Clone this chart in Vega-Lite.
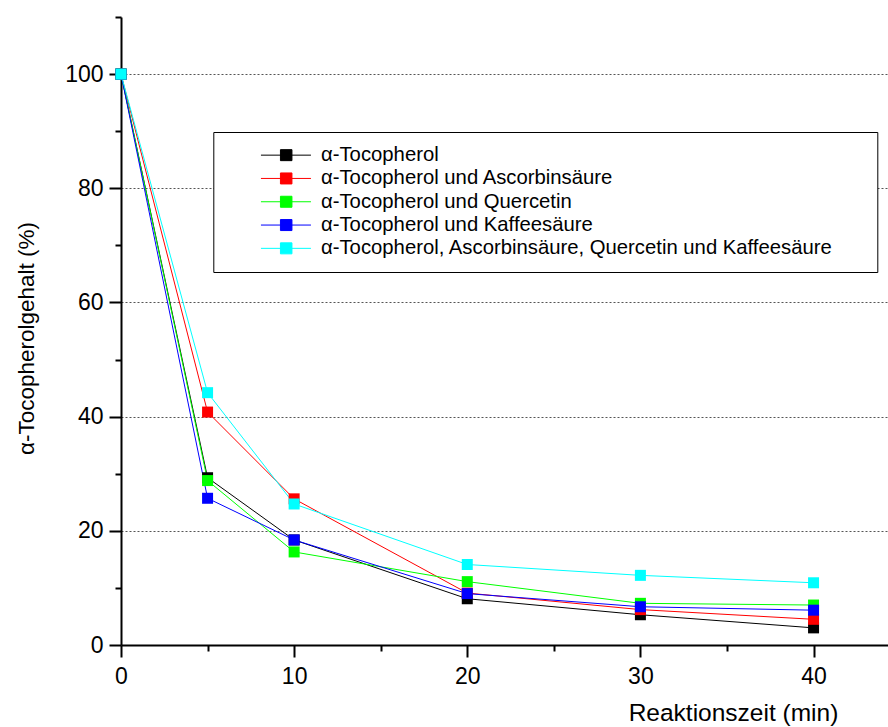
{
  "$schema": "https://vega.github.io/schema/vega-lite/v6.json",
  "width": 767,
  "height": 628,
  "autosize": {"type": "none"},
  "padding": {"left": 121, "top": 17, "right": 0, "bottom": 82},
  "background": "white",
  "config": {
    "font": "Liberation Sans",
    "view": {"stroke": null}
  },
  "data": {
    "values": [
      {"t": 0, "value": 100, "series": "α-Tocopherol"},
      {"t": 5, "value": 29.3, "series": "α-Tocopherol"},
      {"t": 10, "value": 18.4, "series": "α-Tocopherol"},
      {"t": 20, "value": 8.1, "series": "α-Tocopherol"},
      {"t": 30, "value": 5.3, "series": "α-Tocopherol"},
      {"t": 40, "value": 3.0, "series": "α-Tocopherol"},
      {"t": 0, "value": 100, "series": "α-Tocopherol und Ascorbinsäure"},
      {"t": 5, "value": 40.8, "series": "α-Tocopherol und Ascorbinsäure"},
      {"t": 10, "value": 25.6, "series": "α-Tocopherol und Ascorbinsäure"},
      {"t": 20, "value": 9.1, "series": "α-Tocopherol und Ascorbinsäure"},
      {"t": 30, "value": 6.2, "series": "α-Tocopherol und Ascorbinsäure"},
      {"t": 40, "value": 4.5, "series": "α-Tocopherol und Ascorbinsäure"},
      {"t": 0, "value": 100, "series": "α-Tocopherol und Quercetin"},
      {"t": 5, "value": 28.8, "series": "α-Tocopherol und Quercetin"},
      {"t": 10, "value": 16.3, "series": "α-Tocopherol und Quercetin"},
      {"t": 20, "value": 11.1, "series": "α-Tocopherol und Quercetin"},
      {"t": 30, "value": 7.3, "series": "α-Tocopherol und Quercetin"},
      {"t": 40, "value": 7.0, "series": "α-Tocopherol und Quercetin"},
      {"t": 0, "value": 100, "series": "α-Tocopherol und Kaffeesäure"},
      {"t": 5, "value": 25.7, "series": "α-Tocopherol und Kaffeesäure"},
      {"t": 10, "value": 18.4, "series": "α-Tocopherol und Kaffeesäure"},
      {"t": 20, "value": 9.0, "series": "α-Tocopherol und Kaffeesäure"},
      {"t": 30, "value": 6.7, "series": "α-Tocopherol und Kaffeesäure"},
      {"t": 40, "value": 6.1, "series": "α-Tocopherol und Kaffeesäure"},
      {"t": 0, "value": 100, "series": "α-Tocopherol, Ascorbinsäure, Quercetin und Kaffeesäure"},
      {"t": 5, "value": 44.2, "series": "α-Tocopherol, Ascorbinsäure, Quercetin und Kaffeesäure"},
      {"t": 10, "value": 24.7, "series": "α-Tocopherol, Ascorbinsäure, Quercetin und Kaffeesäure"},
      {"t": 20, "value": 14.1, "series": "α-Tocopherol, Ascorbinsäure, Quercetin und Kaffeesäure"},
      {"t": 30, "value": 12.2, "series": "α-Tocopherol, Ascorbinsäure, Quercetin und Kaffeesäure"},
      {"t": 40, "value": 10.9, "series": "α-Tocopherol, Ascorbinsäure, Quercetin und Kaffeesäure"}
    ]
  },
  "resolve": {"axis": {"x": "independent", "y": "independent"}},
  "layer": [
    {
      "mark": {"type": "line", "strokeWidth": 1},
      "encoding": {
        "x": {
          "field": "t",
          "type": "quantitative",
          "scale": {"domain": [0, 44.3], "nice": false, "zero": false},
          "axis": {
            "orient": "bottom",
            "values": [0, 10, 20, 30, 40],
            "tickSize": 12,
            "tickWidth": 2,
            "tickColor": "black",
            "domainColor": "black",
            "domainWidth": 2,
            "labelFontSize": 23,
            "labelColor": "black",
            "labelPadding": 8,
            "labelFlush": false,
            "labelOverlap": false,
            "grid": false,
            "title": "Reaktionszeit (min)",
            "titleFontSize": 24.5,
            "titleFontWeight": "normal",
            "titleColor": "black",
            "titleX": 612,
            "titleY": 75,
            "titleAlign": "center",
            "titleBaseline": "alphabetic"
          }
        },
        "y": {
          "field": "value",
          "type": "quantitative",
          "scale": {"domain": [0, 110], "nice": false},
          "axis": {
            "orient": "left",
            "values": [0, 20, 40, 60, 80, 100],
            "tickSize": 12,
            "tickWidth": 2,
            "tickColor": "black",
            "domainColor": "black",
            "domainWidth": 2,
            "labelFontSize": 23,
            "labelColor": "black",
            "labelPadding": 6,
            "labelOverlap": false,
            "grid": true,
            "gridColor": "#555555",
            "gridDash": [2, 2],
            "gridWidth": 1,
            "gridOpacity": {"condition": {"test": "datum.value === 0", "value": 0}, "value": 1},
            "title": "α-Tocopherolgehalt (%)",
            "titleFontSize": 22.5,
            "titleFontWeight": "normal",
            "titleColor": "black",
            "titleAngle": -90,
            "titleX": -83,
            "titleY": 321,
            "titleAlign": "center",
            "titleBaseline": "bottom"
          }
        },
        "color": {
          "field": "series",
          "type": "nominal",
          "scale": {
            "domain": [
              "α-Tocopherol",
              "α-Tocopherol und Ascorbinsäure",
              "α-Tocopherol und Quercetin",
              "α-Tocopherol und Kaffeesäure",
              "α-Tocopherol, Ascorbinsäure, Quercetin und Kaffeesäure"
            ],
            "range": ["#000000", "#ff0000", "#00ff00", "#0000ff", "#00ffff"]
          },
          "legend": {
            "orient": "none",
            "legendX": 92.3,
            "legendY": 115,
            "title": null,
            "padding": 13,
            "fillColor": "white",
            "strokeColor": "black",
            "symbolType": "M4.9,0H14.9M8.8,-1.1H11.1V1.1H8.8ZM125,0",
            "symbolSize": 100,
            "symbolStrokeWidth": 1,
            "labelOffset": 74.4,
            "labelFontSize": 20.3,
            "labelColor": "black",
            "labelLimit": 1000,
            "rowPadding": 2.3,
            "encode": {
              "symbols": {
                "update": {
                  "fill": {"scale": "color", "field": "value"},
                  "stroke": {"scale": "color", "field": "value"},
                  "opacity": {"value": 1}
                }
              }
            }
          }
        }
      }
    },
    {
      "mark": {"type": "point", "shape": "square", "filled": true, "size": 121, "opacity": 1},
      "encoding": {
        "x": {
          "field": "t",
          "type": "quantitative",
          "axis": {
            "orient": "bottom",
            "values": [5, 15, 25, 35],
            "tickSize": 6,
            "tickWidth": 2,
            "tickColor": "black",
            "domain": false,
            "labels": false,
            "grid": false,
            "title": null
          }
        },
        "y": {
          "field": "value",
          "type": "quantitative",
          "axis": {
            "orient": "left",
            "values": [10, 30, 50, 70, 90, 110],
            "tickSize": 6,
            "tickWidth": 2,
            "tickColor": "black",
            "domain": false,
            "labels": false,
            "grid": false,
            "title": null
          }
        },
        "color": {"field": "series", "type": "nominal", "legend": null}
      }
    }
  ]
}
